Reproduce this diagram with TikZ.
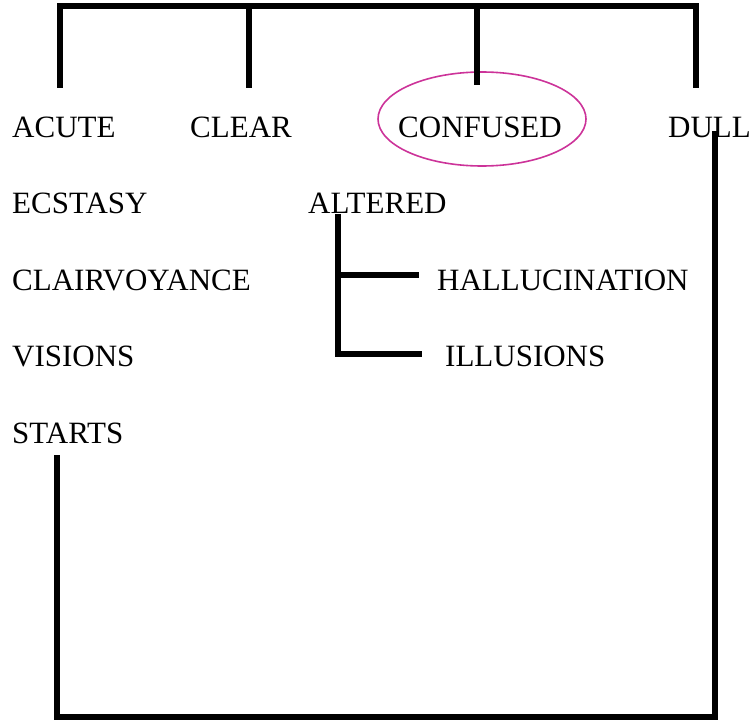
\documentclass[tikz,border=0pt]{standalone}
\usepackage{fontspec}
\setmainfont{Liberation Serif}
\usetikzlibrary{shapes.geometric}
\definecolor{ringpink}{RGB}{204,51,153}
\begin{document}
\begin{tikzpicture}[x=1pt,y=-1pt,
  lbl/.style={anchor=base west,inner sep=0pt,font=\fontsize{31}{31}\selectfont},
  bar/.style={line width=5.5pt,line cap=rect,line join=miter,black},
  ring/.style={draw=ringpink,line width=1.6pt,ellipse,inner sep=0pt,minimum width=208pt,minimum height=94pt}]
\useasboundingbox (0,0) rectangle (753,725);
% labels
\node[lbl] (acute) at (12,137) {ACUTE};
\node[lbl] (clear) at (190,137) {CLEAR};
\node[lbl] (confused) at (398,137) {CONFUSED};
\node[lbl] (dull) at (668,137) {DULL};
\node[lbl] (ecstasy) at (12,213) {ECSTASY};
\node[lbl] (altered) at (308,213) {ALTERED};
\node[lbl] (clair) at (12,290) {CLAIRVOYANCE};
\node[lbl] (halluc) at (437,290) {HALLUCINATION};
\node[lbl] (visions) at (12,366) {VISIONS};
\node[lbl] (illus) at (445,366) {ILLUSIONS};
\node[lbl] (starts) at (12,443) {STARTS};
\node[ring] (circ) at (482,119) {};
% coordinates
\coordinate (tA) at (60,6);
\coordinate (tB) at (249,6);
\coordinate (tC) at (477,6);
\coordinate (tD) at (696,6);
\coordinate (dA) at (60,85);
\coordinate (dB) at (249,85);
\coordinate (dC) at (477,82);
\coordinate (dD) at (696,85);
\coordinate (alTop) at (338,217);
\coordinate (alH) at (338,275);
\coordinate (alI) at (338,354);
\coordinate (hEnd) at (416,275);
\coordinate (iEnd) at (419,354);
\coordinate (dullTop) at (715,134);
\coordinate (brR) at (715,717);
\coordinate (brL) at (57,717);
\coordinate (startsBot) at (57,458);
% top tree
\draw[bar] (dA) -- (tA) -- (tD) -- (dD);
\draw[bar] (tB) -- (dB);
\draw[bar] (tC) -- (dC);
% altered branches
\draw[bar] (alTop) -- (alI) -- (iEnd);
\draw[bar] (alH) -- (hEnd);
% bottom link
\draw[bar] (dullTop) -- (brR) -- (brL) -- (startsBot);
\end{tikzpicture}
\end{document}
